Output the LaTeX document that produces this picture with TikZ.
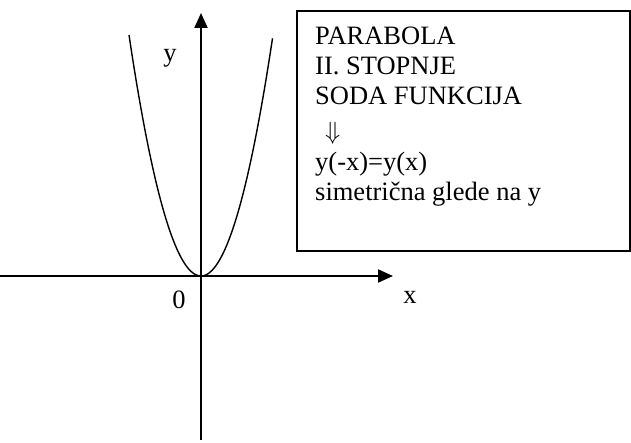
\documentclass[tikz,border=0pt]{standalone}
\usepackage{fontspec}
\setmainfont{Liberation Serif}
\usepackage{tikz}
\usetikzlibrary{arrows.meta}

\begin{document}
\begin{tikzpicture}[
  x=1pt, y=1pt,
  axis/.style={line width=2pt, -{Triangle[length=15pt,width=13pt]}},
  curve/.style={line width=1.4pt},
  infobox/.style={draw, line width=1.5pt, minimum width=333pt, minimum height=240pt, inner sep=0pt},
  txt/.style={anchor=base west, inner sep=0pt, font=\fontsize{26.5}{30}\selectfont},
  lbl/.style={inner sep=0pt, font=\fontsize{26.5}{30}\selectfont},
]
\useasboundingbox (0,0) rectangle (631,442);

% Axes
\coordinate (O) at (201,166);
\coordinate (xstart) at (0,166);
\coordinate (xend) at (393,166);
\coordinate (ybot) at (201,2);
\coordinate (ytop) at (201,429);
\draw[axis] (xstart) -- (xend);
\draw[axis] (ybot) -- (ytop);

% Parabola
\draw[curve] plot[domain=-72:71.5, samples=80, smooth] ({201+\x},{166+0.0465*\x*\x});

% Axis labels
\node[lbl] (ylab) at (170,384) {y};
\node[lbl] (xlab) at (410,145) {x};
\node[lbl] (zero) at (179,142) {0};

% Info box
\node[infobox] (box) at (463.5,311) {};
\node[txt] (l1) at (315,397) {PARABOLA};
\node[txt] (l2) at (315,367) {II. STOPNJE};
\node[txt] (l3) at (315,337) {SODA FUNKCIJA};
\node[txt] (l4) at (325,302) {$\Downarrow$};
\node[txt] (l5) at (315,271) {y(-x)=y(x)};
\node[txt] (l6) at (315,241) {simetrična glede na y};

\end{tikzpicture}
\end{document}
